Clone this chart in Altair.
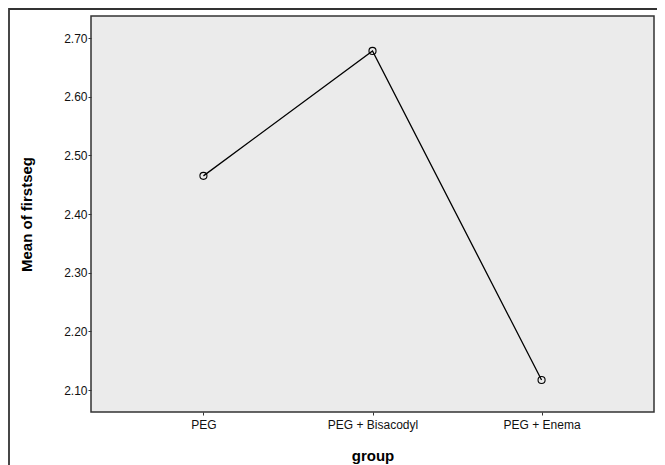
import altair as alt
import pandas as pd

groups = ["PEG", "PEG + Bisacodyl", "PEG + Enema"]
means = [2.465, 2.678, 2.117]
y_ticks = [2.10, 2.20, 2.30, 2.40, 2.50, 2.60, 2.70]

df = pd.DataFrame({"group": groups, "mean": means})

FONT = "Liberation Sans"

x_enc = alt.X(
    "group:N",
    sort=groups,
    scale=alt.Scale(type="point", padding=0.665),
    axis=alt.Axis(
        title="group",
        labelAngle=0,
        tickSize=3,
        tickColor="#333333",
        domain=False,
        grid=False,
        labelFontSize=12,
        labelColor="#111111",
        labelFont=FONT,
        labelPadding=4,
        titleFont=FONT,
        titleFontSize=15,
        titleFontWeight="bold",
        titleColor="#000000",
        titlePadding=18,
    ),
)
y_enc = alt.Y(
    "mean:Q",
    scale=alt.Scale(domain=[2.0625, 2.7375], nice=False, zero=False),
    axis=alt.Axis(
        title="Mean of firstseg",
        values=y_ticks,
        format=".2f",
        tickSize=3,
        tickColor="#333333",
        domain=False,
        grid=False,
        labelFontSize=12,
        labelColor="#111111",
        labelFont=FONT,
        labelPadding=1,
        titleFont=FONT,
        titleFontSize=15,
        titleFontWeight="bold",
        titleColor="#000000",
        titlePadding=29,
    ),
)

line = alt.Chart(df).mark_line(color="#000000", strokeWidth=1.3).encode(x=x_enc, y=y_enc)
pts = alt.Chart(df).mark_point(
    shape="circle", filled=False, color="#000000", size=50, strokeWidth=1.1, opacity=1
).encode(x=x_enc, y=y_enc)

# outer frame (decoration)
frame = alt.Chart(pd.DataFrame({"k": [0]})).mark_rect(
    fill="transparent", stroke="#333333", strokeWidth=1.8, clip=False
).encode(
    x=alt.value(-82), x2=alt.value(700), y=alt.value(-7), y2=alt.value(520)
)

chart = (
    alt.layer(frame, line, pts)
    .properties(
        width=563,
        height=396,
        autosize=alt.AutoSizeParams(type="none"),
        padding={"left": 83, "top": 8, "right": 3, "bottom": 70},
        background="#ffffff",
    )
    .configure_view(fill="#EBEBEB", stroke="#333333", strokeWidth=1.5)
)

chart.save("out.html", embed_options={"renderer": "svg", "actions": False})
